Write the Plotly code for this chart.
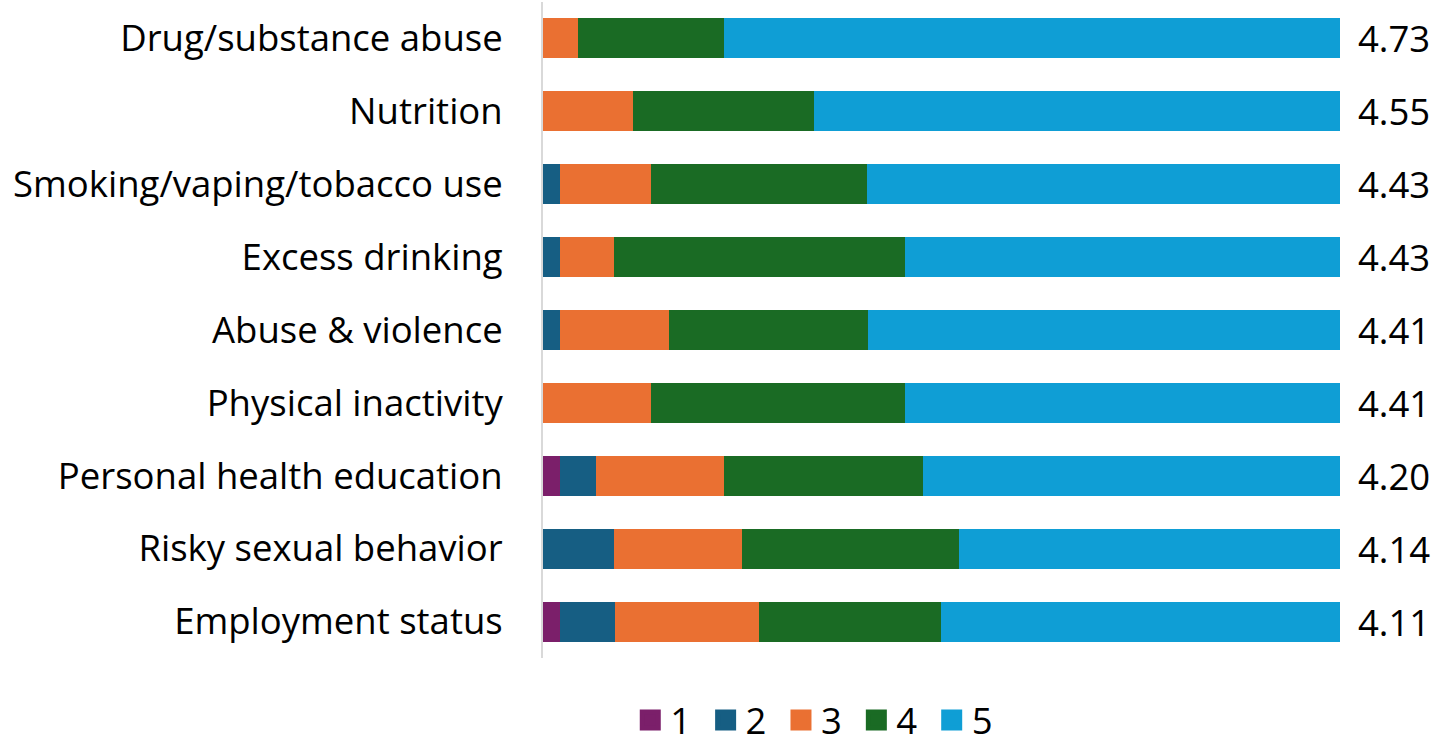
import plotly.graph_objects as go

categories = ["Drug/substance abuse", "Nutrition", "Smoking/vaping/tobacco use",
              "Excess drinking", "Abuse & violence", "Physical inactivity",
              "Personal health education", "Risky sexual behavior", "Employment status"]
means = ["4.73", "4.55", "4.43", "4.43", "4.41", "4.41", "4.20", "4.14", "4.11"]

# percent share of each rating
r1 = [0, 0, 0, 0, 0, 0, 2.1, 0, 2.1]
r2 = [0, 0, 2.1, 2.1, 2.1, 0, 4.5, 8.9, 6.9]
r3 = [4.4, 11.3, 11.4, 6.8, 13.7, 13.5, 16.1, 16.1, 18.1]
r4 = [18.3, 22.7, 27.2, 36.5, 25.0, 31.9, 25.0, 27.2, 22.8]
r5 = [77.3, 66.0, 59.3, 54.6, 59.2, 54.6, 52.3, 47.8, 50.1]

series = [("1", r1, "#7B1F6A"), ("2", r2, "#165E83"), ("3", r3, "#EA7032"),
          ("4", r4, "#1A6B24"), ("5", r5, "#0F9ED5")]

FONT = "Open Sans"
FS = 36.5

fig = go.Figure()
for name, vals, col in series:
    fig.add_trace(go.Bar(y=categories, x=vals, name=name, orientation="h",
                         marker=dict(color=col, line=dict(width=0)),
                         showlegend=False, hoverinfo="x+y+name"))
# legend entries with larger square swatches
for name, vals, col in series:
    fig.add_trace(go.Scatter(x=[None], y=[None], mode="markers", name=name + " ",
                             marker=dict(symbol="square", size=16, color=col,
                                         line=dict(color=col, width=5)),
                             showlegend=True, hoverinfo="skip"))

for cat, m in zip(categories, means):
    fig.add_annotation(x=1, xref="paper", y=cat, yref="y", text=m, showarrow=False,
                       xanchor="left", xshift=16, font=dict(size=FS, color="#000", family=FONT))

fig.update_layout(
    barmode="stack", bargap=0.45,
    width=1432, height=745,
    margin=dict(l=543, r=92, t=1.5, b=86.5, autoexpand=False),
    plot_bgcolor="white", paper_bgcolor="white",
    font=dict(family=FONT, size=FS, color="#000"),
    xaxis=dict(range=[0, 100], visible=False, fixedrange=True),
    yaxis=dict(autorange="reversed", showline=True, linecolor="#D9D9D9", linewidth=2,
               showgrid=False, ticks="", ticklabelstandoff=31, zeroline=False,
               fixedrange=True,
               tickfont=dict(size=FS, family=FONT, color="#000")),
    legend=dict(orientation="h", x=0.346, xanchor="center", y=-0.095, yanchor="middle",
                yref="paper", font=dict(size=FS, family=FONT), traceorder="normal",
                itemwidth=30, tracegroupgap=0),
    showlegend=True,
)

fig.write_html("out.html", post_script="document.body.style.margin='0px';",
               config={"displayModeBar": False})
